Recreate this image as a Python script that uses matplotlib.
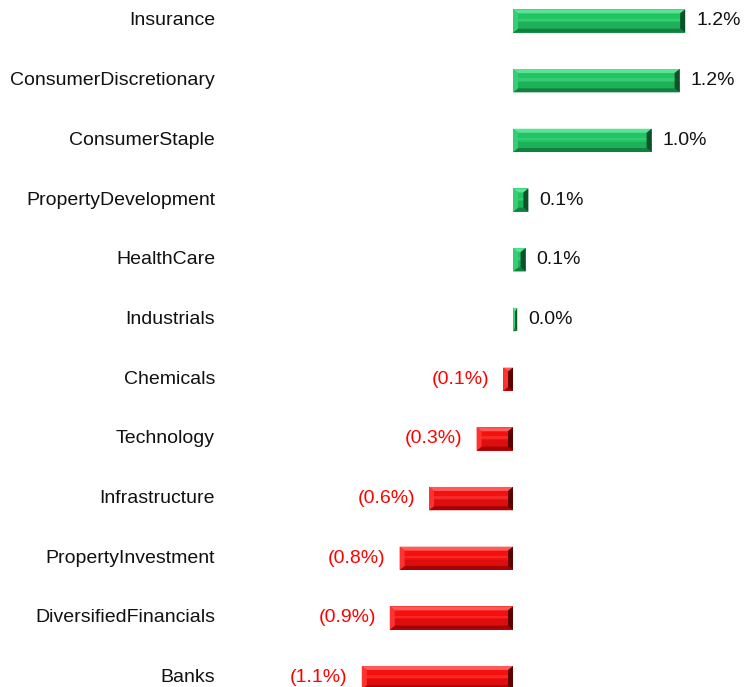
import matplotlib.pyplot as plt
from matplotlib.patches import Polygon

plt.rcParams['font.family'] = ['Liberation Sans', 'DejaVu Sans']

sectors = ['Insurance', 'ConsumerDiscretionary', 'ConsumerStaple', 'PropertyDevelopment',
           'HealthCare', 'Industrials', 'Chemicals', 'Technology', 'Infrastructure',
           'PropertyInvestment', 'DiversifiedFinancials', 'Banks']
returns = [1.23, 1.19, 0.99, 0.11, 0.09, 0.03, -0.07, -0.26, -0.60, -0.81, -0.88, -1.08]
labels = ['1.2%', '1.2%', '1.0%', '0.1%', '0.1%', '0.0%',
          '(0.1%)', '(0.3%)', '(0.6%)', '(0.8%)', '(0.9%)', '(1.1%)']

# face, top, bottom, left, right shades
green = ['#20c463', '#5ae394', '#13803f', '#32d072', '#0b5228']
red = ['#f51010', '#ff5a5a', '#a80000', '#ff3232', '#5c0000']

fig = plt.figure(figsize=(7.44, 6.87), dpi=100)
ax = fig.add_axes([0, 0, 1, 1])
ax.set_xlim(-513 / 140, 231 / 140)
ax.set_ylim((687 - 21) / 59.7, -21 / 59.7)
ax.axis('off')

bars = ax.barh(range(len(sectors)), returns, height=0.39, color='none')

bx = 5 / 140   # bevel size in x data units
by = 4 / 59.7  # bevel size in y data units
for bar, val in zip(bars, returns):
    cols = green if val >= 0 else red
    x0, y0 = bar.get_x(), bar.get_y()
    x1, y1 = x0 + bar.get_width(), y0 + bar.get_height()
    xa, xb = min(x0, x1), max(x0, x1)
    b = min(bx, (xb - xa) / 2)
    ya, yb = min(y0, y1), max(y0, y1)
    ax.add_patch(Polygon([(xa, ya), (xb, ya), (xb, yb), (xa, yb)], closed=True,
                         fc=cols[0], ec='none'))
    # lower half a bit darker
    ym = (ya + yb) / 2
    ax.add_patch(Polygon([(xa, ym + 0.3 * by), (xb, ym + 0.3 * by), (xb, yb), (xa, yb)],
                         fc='black', alpha=0.1, ec='none'))
    ax.add_patch(Polygon([(xa, ym - 0.6 * by), (xb, ym - 0.6 * by), (xb, ym), (xa, ym)],
                         fc='white', alpha=0.1, ec='none'))
    # bevels (screen top = smaller y)
    ax.add_patch(Polygon([(xa, ya), (xb, ya), (xb - b, ya + by), (xa + b, ya + by)],
                         fc=cols[1], ec='none'))
    ax.add_patch(Polygon([(xa, yb), (xb, yb), (xb - b, yb - by), (xa + b, yb - by)],
                         fc=cols[2], ec='none'))
    ax.add_patch(Polygon([(xa, ya), (xa + b, ya + by), (xa + b, yb - by), (xa, yb)],
                         fc=cols[3], ec='none'))
    ax.add_patch(Polygon([(xb, ya), (xb - b, ya + by), (xb - b, yb - by), (xb, yb)],
                         fc=cols[4], ec='none'))

for i, (name, val, lab) in enumerate(zip(sectors, returns, labels)):
    ax.text(-298 / 140, i, name, ha='right', va='center', fontsize=14, color='#111111')
    if val >= 0:
        ax.text(val + 11 / 140, i, lab, ha='left', va='center', fontsize=14, color='#111111')
    else:
        ax.text(val - 14 / 140, i, lab, ha='right', va='center', fontsize=14, color='#ff0000')

fig.savefig('out.png', dpi=100)
